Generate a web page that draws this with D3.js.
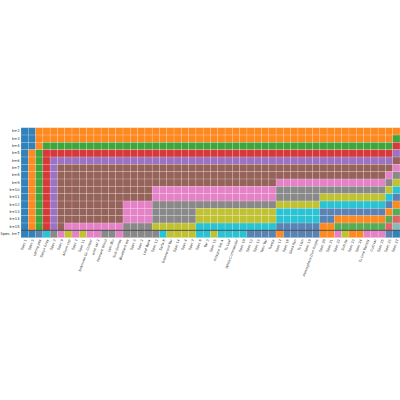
<!DOCTYPE html>
<html><head><meta charset="utf-8">
<script src="https://cdn.jsdelivr.net/npm/d3@7"></script>
<style>body{margin:0;background:#fff}</style></head>
<body><svg id="c" width="400" height="400"></svg>
<script>
const kLabels = ["k=2","k=3","k=4","k=5","k=6","k=7","k=8","k=9","k=10","k=11","k=12","k=13","k=14","k=15"];
const specLabel = "Spec. k=7";
const colLabels = ["Spec 1","Spec 5","spring pea","Sanyo Gray","Spec 3","Spec 9","Allium cep","Spec 7","Spec 11","Unknown Gr.-Cluster","wild var 2","Pennant Wood","Lalo Blu","Sub-Guinea","Blueblack wa","Spec 6","Spec 2","Leaf Bank","Spec 12","Sarla 8","Greenwood Var","Spec 14","Spec 4","Spec 7","Spec 8","Var 3","Spec 15","Polygon Set A","Tu Leaf","White Commander","Spec 10","Spec 13","Spec 16","Yeeo Var","Tuesta","Spec 17","Spec 18","Seed Pan","Tu Lian","Spec 19","Atmosphere Dun Purple","Spec 20","Spec 21","Spec 22","Sub-Aa","Spec 23","Spec 24","Tu Line Variety","Cultivar","Spec 25","Spec 26","Spec 27"];
// cluster id (hex digit) for k=2..k=15, one string per column
const columnClusters = [
 "00000000000000","00011111111111","11122222222222","11233333333333",
 "11234444444444","11234555555555","11234555555556","11234555555556",
 "11234555555556","11234555555556","11234555555556","11234555555556",
 "11234555555556","11234555555556","11234555556667","11234555556667",
 "11234555556667","11234555556667","11234555667778","11234555667778",
 "11234555667778","11234555667778","11234555667778","11234555667778",
 "11234555667889","11234555667889","11234555667889","11234555667889",
 "11234555667889","11234555667889","11234555667889","11234555667889",
 "11234555667889","11234555667889","11234555667889","1123455677899a",
 "1123455677899a","1123455677899a","1123455677899a","1123455677899a",
 "1123455677899a","11234556789aab","11234556789aab","11234556789abc",
 "11234556789abc","11234556789abc","11234556789abc","11234556789abc",
 "11234556789abc","11234556789abc","1123456789abcd","123456789abcde"
];
// Spec. k=7 row, one digit per column
const specClusters = "00a9768686677677777988889989999aaaabaaaaabb68bb666a0";
const colors = ["#1f77b4","#ff7f0e","#2ca02c","#d62728","#9467bd","#8c564b","#e377c2","#7f7f7f","#bcbd22","#17becf","#4a78ae","#ff7f0e","#4aa54a","#e0565a","#7fb3b3"];
</script>
<script>
const svg = d3.select("#c");
const rowLabels = kLabels.concat([specLabel]);
const nCols = colLabels.length;
const x = d3.scaleBand().domain(d3.range(nCols)).range([21, 400]).padding(0);
const y = d3.scaleBand().domain(rowLabels).range([127.7, 237.7]).padding(0);
function clusterAt(r, c){
  const s = r < kLabels.length ? columnClusters[c][r] : specClusters[c];
  return parseInt(s, 16);
}
const cells = [];
rowLabels.forEach((rl, r) => { for (let c = 0; c < nCols; c++) cells.push({r, c, rl, k: clusterAt(r, c)}); });
svg.append("g").selectAll("rect").data(cells).join("rect")
 .attr("x", d => x(d.c)).attr("y", d => y(d.rl))
 .attr("width", x.bandwidth()).attr("height", y.bandwidth())
 .attr("fill", d => colors[d.k]).attr("fill-opacity", 0.92)
 .attr("stroke", "#fff").attr("stroke-opacity", 0.35).attr("stroke-width", 0.5);
svg.append("line").attr("x1", 21).attr("x2", 400)
 .attr("y1", y(specLabel)).attr("y2", y(specLabel))
 .attr("stroke", "#333").attr("stroke-width", 0.8);
svg.append("g").selectAll("text").data(rowLabels).join("text")
 .attr("x", 19.5).attr("y", d => y(d) + y.bandwidth()/2)
 .attr("text-anchor", "end").attr("dominant-baseline", "middle")
 .attr("font-family", "DejaVu Sans").attr("font-size", 3.7).attr("fill", "#222").text(d => d);
svg.append("g").selectAll("text").data(colLabels).join("text")
 .attr("transform", (d, i) => `translate(${x(i) + x.bandwidth()/2 + 1.2},${239.5}) rotate(-70)`)
 .attr("text-anchor", "end").attr("dominant-baseline", "middle")
 .attr("font-family", "DejaVu Sans").attr("font-size", 3.3).attr("fill", "#222").text(d => d);
</script>
</body></html>
